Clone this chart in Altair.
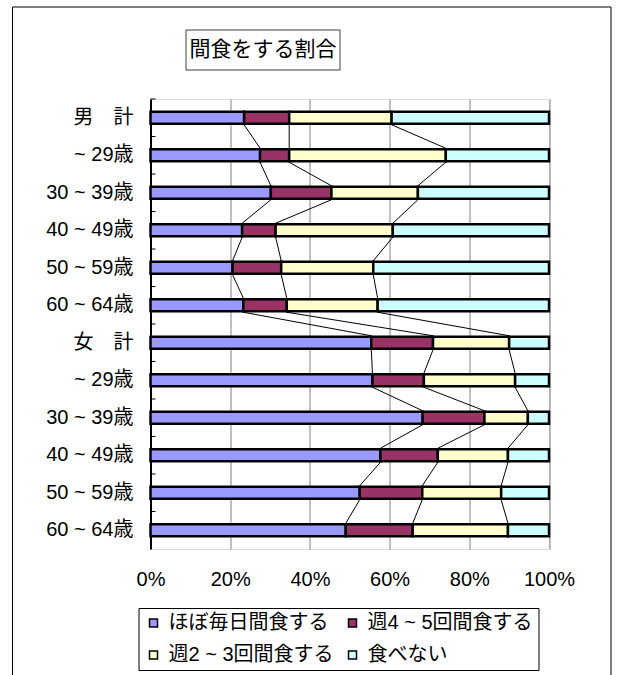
import json
import altair as alt
import pandas as pd

TITLE = "間食をする割合"
ROW_LABELS = ["男　計", "~ 29歳", "30 ~ 39歳", "40 ~ 49歳", "50 ~ 59歳", "60 ~ 64歳",
              "女　計", "~ 29歳", "30 ~ 39歳", "40 ~ 49歳", "50 ~ 59歳", "60 ~ 64歳"]
SERIES = ["ほぼ毎日間食する", "週4 ~ 5回間食する", "週2 ~ 3回間食する", "食べない"]
COLORS = ["#9999FF", "#993366", "#FFFFCC", "#CCFFFF"]
X_TICKS = [0, 20, 40, 60, 80, 100]

# percentage of respondents per group (rows follow ROW_LABELS)
daily = [23.5, 27.5, 30.2, 23.0, 20.6, 23.3, 55.4, 55.7, 68.3, 57.7, 52.5, 49.0]
wk45 = [11.3, 7.3, 15.2, 8.4, 12.2, 10.9, 15.5, 12.9, 15.5, 14.4, 15.7, 16.8]
wk23 = [25.7, 39.3, 21.7, 29.4, 23.1, 22.8, 19.1, 22.9, 10.9, 17.6, 19.8, 23.9]
never = [39.5, 25.9, 32.9, 39.2, 44.1, 43.0, 10.0, 8.5, 5.3, 10.3, 12.0, 10.3]

FONT = "Liberation Sans, Noto Sans CJK JP"
series_values = [daily, wk45, wk23, never]

# segments of each 100% bar
seg_rows = []
cum = [[0.0] * len(ROW_LABELS)]
for j, vals in enumerate(series_values):
    prev = cum[-1]
    nxt = []
    for i, v in enumerate(vals):
        total = sum(s[i] for s in series_values)
        start = prev[i]
        end = start + 100.0 * v / total
        nxt.append(end)
        seg_rows.append({"row": i, "series": SERIES[j], "order": j,
                         "start": start, "end": end})
    cum.append(nxt)
bars_df = pd.DataFrame(seg_rows)

# series lines joining matching segment boundaries of neighbouring bars
line_rows = []
for k in range(1, len(SERIES)):
    for i in range(len(ROW_LABELS) - 1):
        line_rows.append({"row": i, "row2": i + 1,
                          "x": cum[k][i], "x2": cum[k][i + 1]})
lines_df = pd.DataFrame(line_rows)

rows_df = pd.DataFrame({"row": list(range(len(ROW_LABELS)))})
one_df = pd.DataFrame({"title": [TITLE]})

WIDTH, HEIGHT = 398.5, 450
STEP = HEIGHT / len(ROW_LABELS)

y_scale = alt.Scale(paddingInner=0, paddingOuter=0)
x_scale = alt.Scale(domain=[0, 100], nice=False)

label_expr = json.dumps(ROW_LABELS, ensure_ascii=False) + "[datum.value]"

bars = alt.Chart(bars_df).mark_bar(size=12, stroke="black", strokeWidth=2.5).encode(
    y=alt.Y("row:O", scale=y_scale,
            axis=alt.Axis(title=None, labelExpr=label_expr, ticks=False,
                          labelPadding=17.5, labelFontSize=20, labelFont=FONT,
                          labelColor="black", domainColor="black",
                          domainWidth=2)),
    x=alt.X("start:Q", scale=x_scale,
            axis=alt.Axis(title=None, values=X_TICKS, labelExpr="datum.value + '%'",
                          ticks=False, domain=False, grid=True, labelFlush=False,
                          gridColor="#808080", gridWidth=1, labelPadding=30,
                          labelFontSize=20, labelFont=FONT, labelColor="black",
                          labelBaseline="middle")),
    x2="end:Q",
    color=alt.Color("series:N", scale=alt.Scale(domain=SERIES, range=COLORS),
                    legend=alt.Legend(title=None, orient="none", legendX=-12,
                                      legendY=509, direction="horizontal",
                                      columns=2, strokeColor="black",
                                      padding=5, symbolType="square",
                                      symbolSize=64, symbolStrokeColor="black",
                                      symbolStrokeWidth=1.5, labelFontSize=20,
                                      labelFont=FONT, labelColor="black",
                                      labelOffset=5, columnPadding=8,
                                      rowPadding=12, labelLimit=0)),
    order=alt.Order("order:Q"),
)

series_lines = alt.Chart(lines_df).mark_rule(
    color="black", strokeWidth=1, yOffset=7, y2Offset=-7
).encode(
    y=alt.Y("row:O", scale=y_scale),
    y2="row2:O",
    x=alt.X("x:Q", scale=x_scale),
    x2="x2:Q",
)

axis_ticks = alt.Chart(rows_df).mark_rule(
    color="black", strokeWidth=1, yOffset=-STEP / 2
).encode(
    y=alt.Y("row:O", scale=y_scale),
    x=alt.value(0),
    x2=alt.value(5),
)

outer_frame = alt.Chart(one_df).mark_rect(
    fill="transparent", stroke="black", strokeWidth=1
).encode(
    x=alt.value(-138), x2=alt.value(460.5),
    y=alt.value(-92), y2=alt.value(600),
)

title_box = alt.Chart(one_df).mark_rect(
    fill="white", stroke="#404040", strokeWidth=1
).encode(
    x=alt.value(35.5), x2=alt.value(189.5),
    y=alt.value(-69), y2=alt.value(-29),
)

title_text = alt.Chart(one_df).mark_text(
    fontSize=21, font=FONT, color="black", align="center", baseline="middle"
).encode(
    x=alt.value(112.5), y=alt.value(-49), text="title:N",
)

chart = alt.layer(
    outer_frame, title_box, title_text, bars, series_lines, axis_ticks
).properties(
    width=WIDTH, height=HEIGHT,
    autosize=alt.AutoSizeParams(type="none"),
    padding={"left": 150.5, "top": 99, "right": 74, "bottom": 126},
).configure_view(
    stroke="#808080", strokeWidth=1
).configure(background="white")

chart.save("out.html", embed_options={"renderer": "svg", "actions": False})
